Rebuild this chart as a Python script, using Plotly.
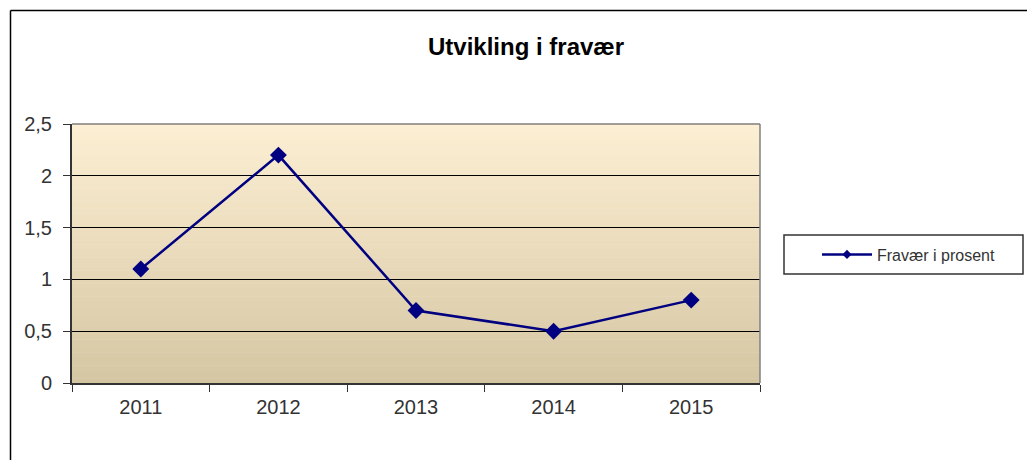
import plotly.graph_objects as go

years = ["2011", "2012", "2013", "2014", "2015"]
fravaer = [1.1, 2.2, 0.7, 0.5, 0.8]
series_name = "Fravær i prosent"
title_text = "Utvikling i fravær"

W, H = 1027, 460
L, R, T, B = 72, 760, 124, 383
pw, ph = R - L, B - T
FONT = "Liberation Sans, Arial, sans-serif"

def px_x(x):
    return (x - L) / pw

def px_y(y):
    return (B - y) / ph

fig = go.Figure()
fig.add_trace(go.Scatter(
    x=years, y=fravaer, mode="lines+markers", name=series_name,
    line=dict(color="#000080", width=2.5),
    marker=dict(symbol="diamond", size=13, color="#000080"),
    showlegend=False,
))
# legend-only entry with small marker (no data)
fig.add_trace(go.Scatter(
    x=[None], y=[None], mode="lines+markers", name=series_name,
    line=dict(color="#000080", width=2.5),
    marker=dict(symbol="diamond", size=7, color="#000080"),
    showlegend=True, hoverinfo="skip",
))

shapes = []
top_c = (253, 239, 211)
bot_c = (213, 198, 163)
n = 60
for i in range(n):
    t = (i + 0.5) / n
    c = tuple(int(round(bot_c[k] + (top_c[k] - bot_c[k]) * t)) for k in range(3))
    shapes.append(dict(type="rect", xref="x domain", yref="y domain",
                       x0=0, x1=1, y0=i / n, y1=(i + 1) / n + 0.002,
                       fillcolor="rgb(%d,%d,%d)" % c, line=dict(width=0), layer="below"))
shapes.append(dict(type="line", xref="paper", yref="paper", x0=0, x1=1, y0=1, y1=1,
                   line=dict(color="#808080", width=1.5)))
shapes.append(dict(type="line", xref="paper", yref="paper", x0=1, x1=1, y0=0, y1=1,
                   line=dict(color="#808080", width=1.5)))
# outer chart border (left and top)
shapes.append(dict(type="line", xref="paper", yref="paper",
                   x0=px_x(10.5), x1=px_x(1027), y0=px_y(10.5), y1=px_y(10.5),
                   line=dict(color="#000000", width=1.5)))
shapes.append(dict(type="line", xref="paper", yref="paper",
                   x0=px_x(10.5), x1=px_x(10.5), y0=px_y(10.5), y1=px_y(470),
                   line=dict(color="#000000", width=1.5)))
# legend box
shapes.append(dict(type="rect", xref="paper", yref="paper",
                   x0=px_x(784), x1=px_x(1023), y0=px_y(274), y1=px_y(235),
                   line=dict(color="#333333", width=1.5), fillcolor="white"))

fig.update_layout(
    width=W, height=H,
    margin=dict(l=L, r=W - R, t=T, b=H - B),
    paper_bgcolor="white", plot_bgcolor="rgba(0,0,0,0)",
    separators=", ",
    font=dict(family=FONT, size=20, color="#333"),
    title=dict(text="<b>" + title_text + "</b>", x=px_x(526), xref="paper", xanchor="center",
               y=1 - 47 / H, yanchor="middle",
               font=dict(size=24, color="#000", family=FONT)),
    showlegend=True,
    legend=dict(x=px_x(817), y=px_y(254.5), xanchor="left", yanchor="middle",
                bgcolor="rgba(0,0,0,0)", borderwidth=0,
                font=dict(size=16, color="#333"), itemwidth=50),
    shapes=shapes,
    xaxis=dict(type="category", showgrid=False, showline=True, linecolor="#333", linewidth=2,
               ticks="outside", tickson="boundaries", ticklen=7, tickcolor="#333",
               ticklabelstandoff=5,
               tickfont=dict(size=20, color="#333"), range=[-0.5, 4.5], zeroline=False),
    yaxis=dict(range=[0, 2.5], tickvals=[0, 0.5, 1, 1.5, 2, 2.5], showgrid=True,
               gridcolor="#000", gridwidth=1, showline=True, linecolor="#333", linewidth=2,
               ticks="outside", ticklen=7, tickcolor="#333", zeroline=False,
               ticklabelstandoff=7,
               tickfont=dict(size=20, color="#333")),
)

fig.write_html("out.html", config={"displayModeBar": False},
               post_script="document.body.style.margin='0';")
